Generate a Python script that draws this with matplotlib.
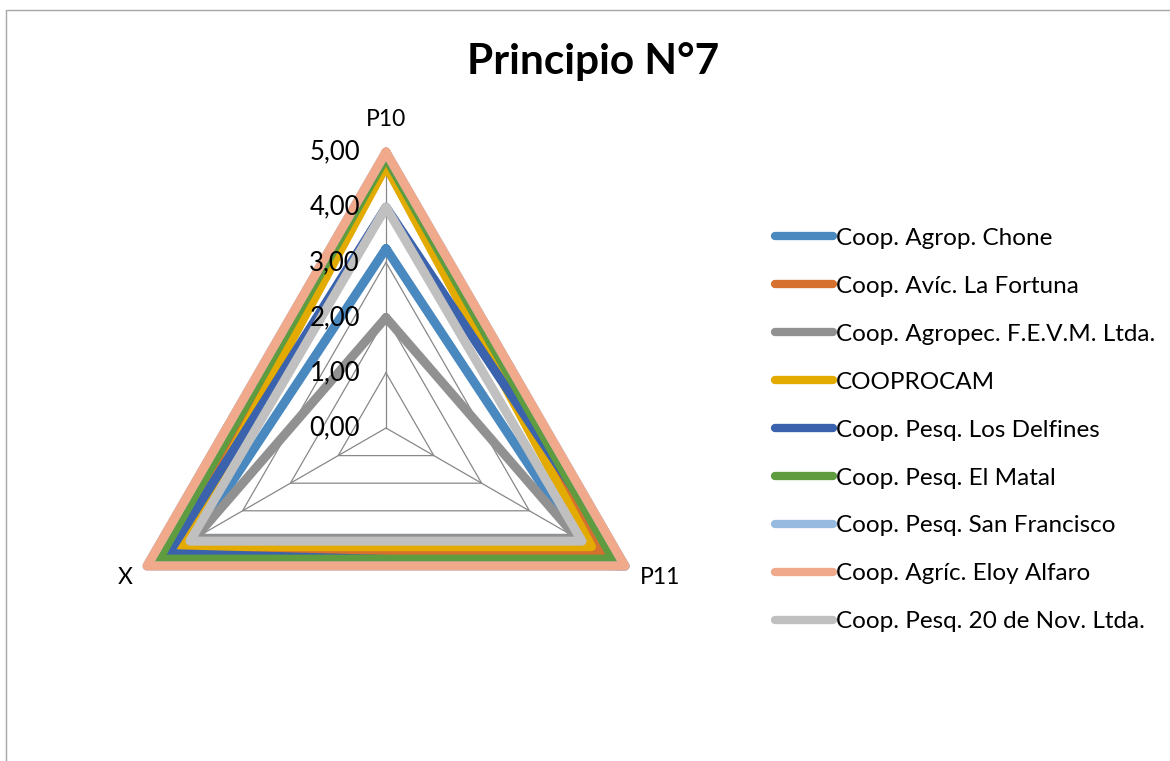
import numpy as np

import matplotlib
matplotlib.use('Agg')

import matplotlib.pyplot as plt
from matplotlib.lines import Line2D
from matplotlib.patches import Rectangle
from matplotlib.transforms import offset_copy

plt.rcParams['font.family'] = ['Lato', 'DejaVu Sans']

# data (P10, P11, X)
axis_names = ['P10', 'P11', 'X']
series_names = ['Coop. Agrop. Chone', 'Coop. Avíc. La Fortuna',
                'Coop. Agropec. F.E.V.M. Ltda.', 'COOPROCAM',
                'Coop. Pesq. Los Delfines', 'Coop. Pesq. El Matal',
                'Coop. Pesq. San Francisco', 'Coop. Agríc. Eloy Alfaro',
                'Coop. Pesq. 20 de Nov. Ltda.']
chone = [3.25, 4.0, 4.0]
fortuna = [4.75, 4.5, 4.5]
fevm = [2.0, 4.0, 4.0]
cooprocam = [4.75, 4.3, 4.3]
delfines = [4.0, 5.0, 4.55]
matal = [4.9, 4.75, 4.75]
san_francisco = [5.0, 5.0, 5.0]
eloy_alfaro = [5.0, 5.0, 5.0]
nov20 = [4.0, 4.1, 4.1]
ticks = [0, 1, 2, 3, 4, 5]
tick_labels = ['0,00', '1,00', '2,00', '3,00', '4,00', '5,00']

values = [chone, fortuna, fevm, cooprocam, delfines, matal,
          san_francisco, eloy_alfaro, nov20]
colors = ['#4A89C0', '#D5702F', '#919191', '#E3AA00', '#3A62AD',
          '#5F9B3F', '#97BAE0', '#F0A98B', '#C0C0C0']

W, H = 1170, 761
fig = plt.figure(figsize=(W / 100, H / 100), dpi=100)

# chart frame (cropped on the right and bottom)
fig.patches.append(Rectangle((6 / W, -0.1), 1.2, 1 - 10 / H + 0.1,
                             transform=fig.transFigure, fill=False,
                             edgecolor='#A6A6A6', linewidth=1.0))

cx, cy, R = 386, 428, 276
ax = fig.add_axes([(cx - R) / W, 1 - (cy + R) / H, 2 * R / W, 2 * R / H],
                  projection='polar')
ax.set_theta_offset(np.pi / 2)
ax.set_theta_direction(-1)
ax.set_ylim(0, 5)
ax.grid(False)
ax.set_xticks([])
ax.set_yticks([])
ax.spines['polar'].set_visible(False)
ax.patch.set_visible(False)

angles = np.linspace(0, 2 * np.pi, len(axis_names), endpoint=False)
closed = np.append(angles, angles[0])

# polygon grid and spokes
for r in ticks[1:]:
    ax.plot(closed, [r] * len(closed), color='#888888', lw=0.9, zorder=1)
for a in angles:
    ax.plot([a, a], [0, 5], color='#888888', lw=0.9, zorder=1)

for vals, col in zip(values, colors):
    ax.plot(closed, vals + vals[:1], color=col, lw=6.5,
            solid_joinstyle='round', solid_capstyle='round',
            clip_on=False, zorder=3)

# value labels along P10
tr = offset_copy(ax.transData, fig=fig, x=-26, y=0, units='dots')
for t, lab in zip(ticks, tick_labels):
    ax.text(0, t, lab, transform=tr, ha='right', va='center',
            fontsize=18.5, color='#000000', zorder=5)

# category labels
ax.text(angles[0], 5, axis_names[0],
        transform=offset_copy(ax.transData, fig=fig, x=0, y=33, units='dots'),
        ha='center', va='center', fontsize=16.5)
ax.text(angles[1], 5, axis_names[1],
        transform=offset_copy(ax.transData, fig=fig, x=15, y=-11, units='dots'),
        ha='left', va='center', fontsize=16.5)
ax.text(angles[2], 5, axis_names[2],
        transform=offset_copy(ax.transData, fig=fig, x=-14, y=-11, units='dots'),
        ha='right', va='center', fontsize=16.5)

fig.text(593 / W, 1 - 62 / H, 'Principio N°7', ha='center', va='center',
         fontsize=30.5, fontweight='bold')

handles = [Line2D([], [], color=c, lw=6, solid_capstyle='round') for c in colors]
fig.legend(handles, series_names, loc='center left',
           bbox_to_anchor=(775 / W, 1 - 430 / H), frameon=False,
           fontsize=17.5, handlelength=2.39, handletextpad=0.12,
           labelspacing=1.11, borderpad=0, borderaxespad=0)

fig.savefig('out.png', dpi=100)
